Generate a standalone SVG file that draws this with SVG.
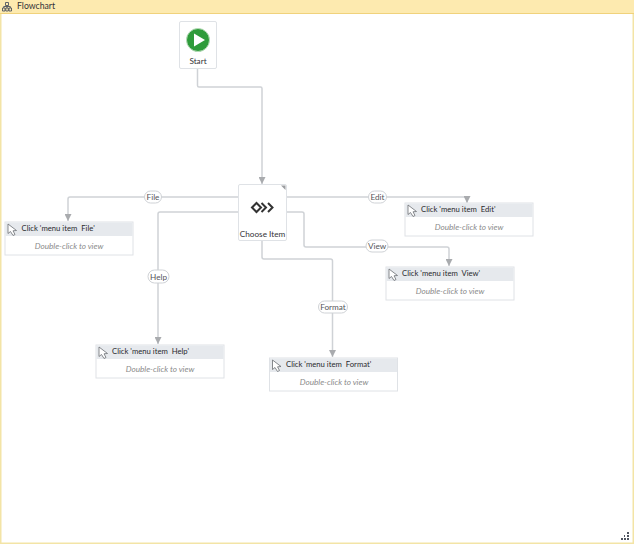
<svg xmlns="http://www.w3.org/2000/svg" width="634" height="544" viewBox="0 0 634 544">
<style>
text{font-family:Lato,"Open Sans","Liberation Sans",sans-serif;font-size:8.2px;fill:#333338;white-space:pre}
.title{font-size:8.7px}
.cap{font-size:7.7px;fill:#2a2a2e}
.card{fill:#fff;stroke:#dfe2e6;stroke-width:1}
.hdr{fill:#e6e9ed}
.hint{font-style:italic;fill:#8a8a8a;text-anchor:middle}
.c{fill:none;stroke:#cfd2d6;stroke-width:1.5;stroke-linejoin:round}
.head{fill:#a9abae}
.pill{fill:#fff;stroke:#cfd2d6;stroke-width:1}
.lbl{text-anchor:middle;fill:#55565a}
.cur{fill:#fff;stroke:#6a6d72;stroke-width:.8}
</style>
<defs>
<g id="cursor"><path class="cur" d="M0 0L0 9.500L2.500 7.500L5 11.500L7 10.500L5 6.800L8.500 6.500Z"/></g>
<marker id="arr" markerWidth="8" markerHeight="7" refX="7" refY="3.500" orient="auto" markerUnits="userSpaceOnUse"><path class="head" d="M0 0L7 3.500L0 7Z"/></marker>
</defs>
<rect x="0" y="0" width="634" height="544" fill="#fff"/>
<rect x="0.750" y="0.750" width="632.500" height="542.500" fill="none" stroke="#f3e4a6" stroke-width="1.500"/>
<g id="header">
<rect x="0" y="0" width="634" height="14" fill="#fdeaaf"/>
<line x1="0" y1="13.500" x2="634" y2="13.500" stroke="#f0d27c"/>
<path d="M5.500 2.500h3v3h-3zM2.500 8h2.500v3h-2.500zM5.800 8h2.500v3h-2.500zM9 8h2.500v3h-2.500zM3.700 8V6.500h6.600V8M7 5.500V8" fill="none" stroke="#4f5560" stroke-width=".9"/>
<text class="title" x="17" y="9">Flowchart</text>
</g>
<g id="connectors">
<path class="c" marker-end="url(#arr)" d="M197.500 69V85.500Q197.500 87 199 87H260.500Q262 87 262 88.500V184"/>
<path class="c" marker-end="url(#arr)" d="M238 197H70Q68 197 68 199V221"/>
<path class="c" marker-end="url(#arr)" d="M287 197H467V203"/>
<path class="c" marker-end="url(#arr)" d="M238 212H160Q158 212 158 214V344"/>
<path class="c" marker-end="url(#arr)" d="M287 212H302Q304 212 304 214V245Q304 247 306 247H447Q449 247 449 249V266"/>
<path class="c" marker-end="url(#arr)" d="M262 240V257Q262 259 264 259H330.500Q332.500 259 332.500 261V357"/>
<rect class="pill" x="144.500" y="191" width="17" height="12" rx="6"/><text class="lbl" x="153" y="200">File</text>
<rect class="pill" x="368.500" y="191" width="18" height="12" rx="6"/><text class="lbl" x="377.500" y="200">Edit</text>
<rect class="pill" x="366" y="240" width="22" height="12" rx="6"/><text class="lbl" x="377" y="249">View</text>
<rect class="pill" x="148" y="270" width="21" height="13" rx="6.500"/><text class="lbl" x="158.500" y="279.500">Help</text>
<rect class="pill" x="318.500" y="301" width="29" height="12" rx="6"/><text class="lbl" x="333" y="310">Format</text>
</g>
<g id="start">
<rect class="card" x="179.500" y="21.500" width="37" height="47" rx="1.500"/>
<circle cx="198" cy="40" r="11.500" fill="#2e9b3a" stroke="#b7dcb9" stroke-width="1"/>
<path d="M194 33.500L205 40L194 46.500Z" fill="#fff"/>
<text x="198" y="64" text-anchor="middle">Start</text>
</g>
<g id="choose">
<rect class="card" x="238.500" y="184.500" width="48" height="56" rx="1.500"/>
<path d="M281 185.500h4.500v4.500z" fill="#9b9da0"/>
<g fill="none" stroke="#333" stroke-width="2">
<path d="M252 207.500L256.500 203L261 207.500L256.500 212Z"/>
<path d="M261.500 203L266 207.500L261.500 212"/>
<path d="M268 203L272.500 207.500L268 212"/>
</g>
<text x="262.500" y="237" text-anchor="middle">Choose Item</text>
</g>
<g id="file">
<rect class="card" x="5" y="222" width="128" height="33"/>
<rect class="hdr" x="5.500" y="222.500" width="127" height="13.500"/>
<use href="#cursor" x="8" y="224"/>
<text class="cap" x="21.500" y="231">Click 'menu item  File'</text>
<text class="hint" x="69" y="249">Double-click to view</text>
</g>
<g id="edit">
<rect class="card" x="405" y="203" width="128" height="33"/>
<rect class="hdr" x="405.500" y="203.500" width="127" height="13.500"/>
<use href="#cursor" x="408" y="205"/>
<text class="cap" x="421" y="212">Click 'menu item  Edit'</text>
<text class="hint" x="469" y="230">Double-click to view</text>
</g>
<g id="view">
<rect class="card" x="386" y="267" width="128" height="33"/>
<rect class="hdr" x="386.500" y="267.500" width="127" height="13.500"/>
<use href="#cursor" x="389" y="269"/>
<text class="cap" x="402" y="276">Click 'menu item  View'</text>
<text class="hint" x="450" y="294">Double-click to view</text>
</g>
<g id="help">
<rect class="card" x="96" y="345" width="128" height="33"/>
<rect class="hdr" x="96.500" y="345.500" width="127" height="13.500"/>
<use href="#cursor" x="99" y="347"/>
<text class="cap" x="112" y="354">Click 'menu item  Help'</text>
<text class="hint" x="160" y="372">Double-click to view</text>
</g>
<g id="format">
<rect class="card" x="269.500" y="358" width="128" height="33"/>
<rect class="hdr" x="270" y="358.500" width="127" height="13.500"/>
<use href="#cursor" x="272.500" y="360"/>
<text class="cap" x="286" y="367">Click 'menu item  Format'</text>
<text class="hint" x="334" y="385">Double-click to view</text>
</g>
<g id="grip" fill="#4f5560">
<rect x="627" y="535" width="2" height="2"/><rect x="624" y="538" width="2" height="2"/><rect x="627" y="538" width="2" height="2"/><rect x="621" y="538" width="2" height="2"/><rect x="624" y="535" width="1" height="2"/><rect x="627" y="532" width="2" height="2"/>
</g>
</svg>
